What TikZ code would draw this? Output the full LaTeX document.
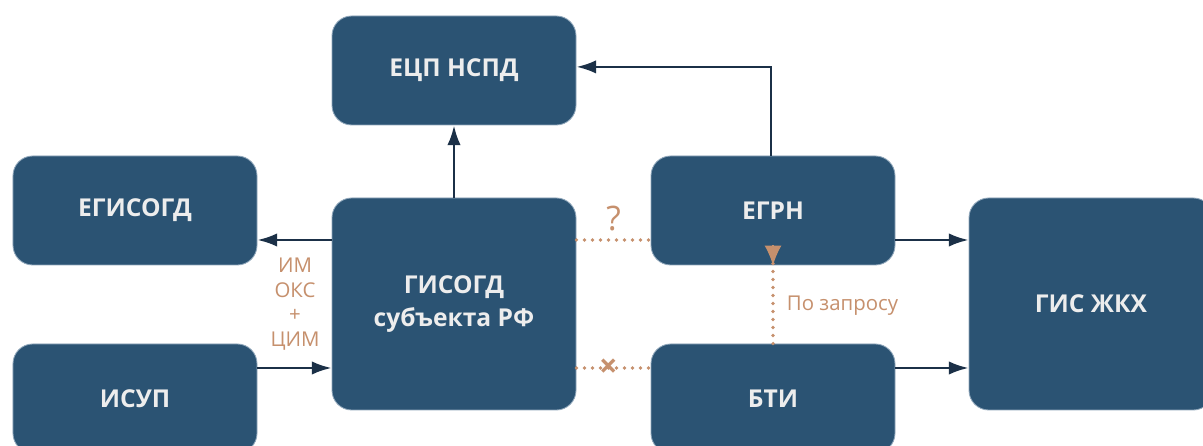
\documentclass[tikz,border=0pt]{standalone}
\usepackage{fontspec}
\setmainfont{Open Sans}
\usetikzlibrary{arrows.meta}
\definecolor{boxblue}{HTML}{2B5373}
\definecolor{boxedge}{HTML}{8FA6BA}
\definecolor{arrblue}{HTML}{1B3047}
\definecolor{tan}{HTML}{C6906D}
\newcommand{\taillebox}{2.725cm}
\tikzset{
  sysbox/.style={draw=boxedge,line width=0.6pt,fill=boxblue,rounded corners=14pt,
    minimum width=6.1cm,minimum height=\taillebox,align=center,
    text=white!93!black,font=\bfseries\fontsize{17.5}{24}\selectfont},
  bigbox/.style={sysbox,minimum height=5.3cm},
  arr/.style={draw=arrblue,line width=1.8pt,-{Latex[length=14pt,width=9.5pt]}},
  dotline/.style={draw=tan,line width=2.6pt,line cap=round,dash pattern=on 0pt off 5.7pt},
  tanlabel/.style={text=tan,font=\fontsize{14.5}{17.5}\selectfont,align=center}
}
\begin{document}
\begin{tikzpicture}
        \clip (0,0) rectangle (30.075,11.15);
        \fill[white] (0,0) rectangle (30.075,11.15);
        \node[sysbox] (ecp) at (11.35,9.3875) {ЕЦП НСПД};
        \node[sysbox] (egisogd) at (3.375,5.8875) {ЕГИСОГД};
        \node[sysbox] (isup) at (3.375,1.1875) {ИСУП};
        \node[bigbox] (gisogd) at (11.35,3.55) {ГИСОГД\\ субъекта РФ};
        \node[sysbox] (egrn) at (19.325,5.8875) {ЕГРН};
        \node[sysbox] (bti) at (19.325,1.1875) {БТИ};
        \node[bigbox] (gisjkh) at (27.275,3.55) {ГИС ЖКХ};
        % arrows
        \draw[arr] (gisogd.north) -- (ecp.south);
        \draw[arr] ([xshift=-0.05cm]egrn.north) |- ([yshift=0.09cm]ecp.east);
        \draw[arr] ([yshift=1.6cm]gisogd.west) -- ([yshift=1.6cm]gisogd.west -| egisogd.east);
        \draw[arr] ([yshift=-1.6cm]gisogd.west -| isup.east) -- ([yshift=-1.6cm]gisogd.west);
        \draw[arr] ([yshift=-0.7375cm]egrn.east) -- ([yshift=-0.7375cm]egrn.east -| gisjkh.west);
        \draw[arr] ([yshift=0.7625cm]bti.east) -- ([yshift=0.7625cm]bti.east -| gisjkh.west);
        \node[tanlabel] (imoks) at (7.375,3.55) {ИМ\\ ОКС\\ +\\ ЦИМ};
        % dotted links
        \draw[dotline] ([yshift=1.6cm]gisogd.east) -- node[above=2pt,text=tan,font=\fontsize{24}{28}\selectfont] (q) {?} ([yshift=1.6cm]gisogd.east -| egrn.west);
        \draw[dotline] ([yshift=-1.6cm]gisogd.east) -- node[pos=0.43,text=tan,font=\bfseries\fontsize{23}{26}\selectfont,inner sep=0pt] (x) {×} ([yshift=-1.6cm]gisogd.east -| bti.west);
        \draw[dotline] (bti.north) -- ([yshift=0.5cm]bti.north |- egrn.south);
        \draw[tan,line width=1pt,-{Latex[length=14pt,width=12pt]}] ([yshift=0.5cm]bti.north |- egrn.south) -- (egrn.south);
        \node[tanlabel,anchor=west] (zapros) at (19.55,3.5) {По запросу};
\end{tikzpicture}
\end{document}
